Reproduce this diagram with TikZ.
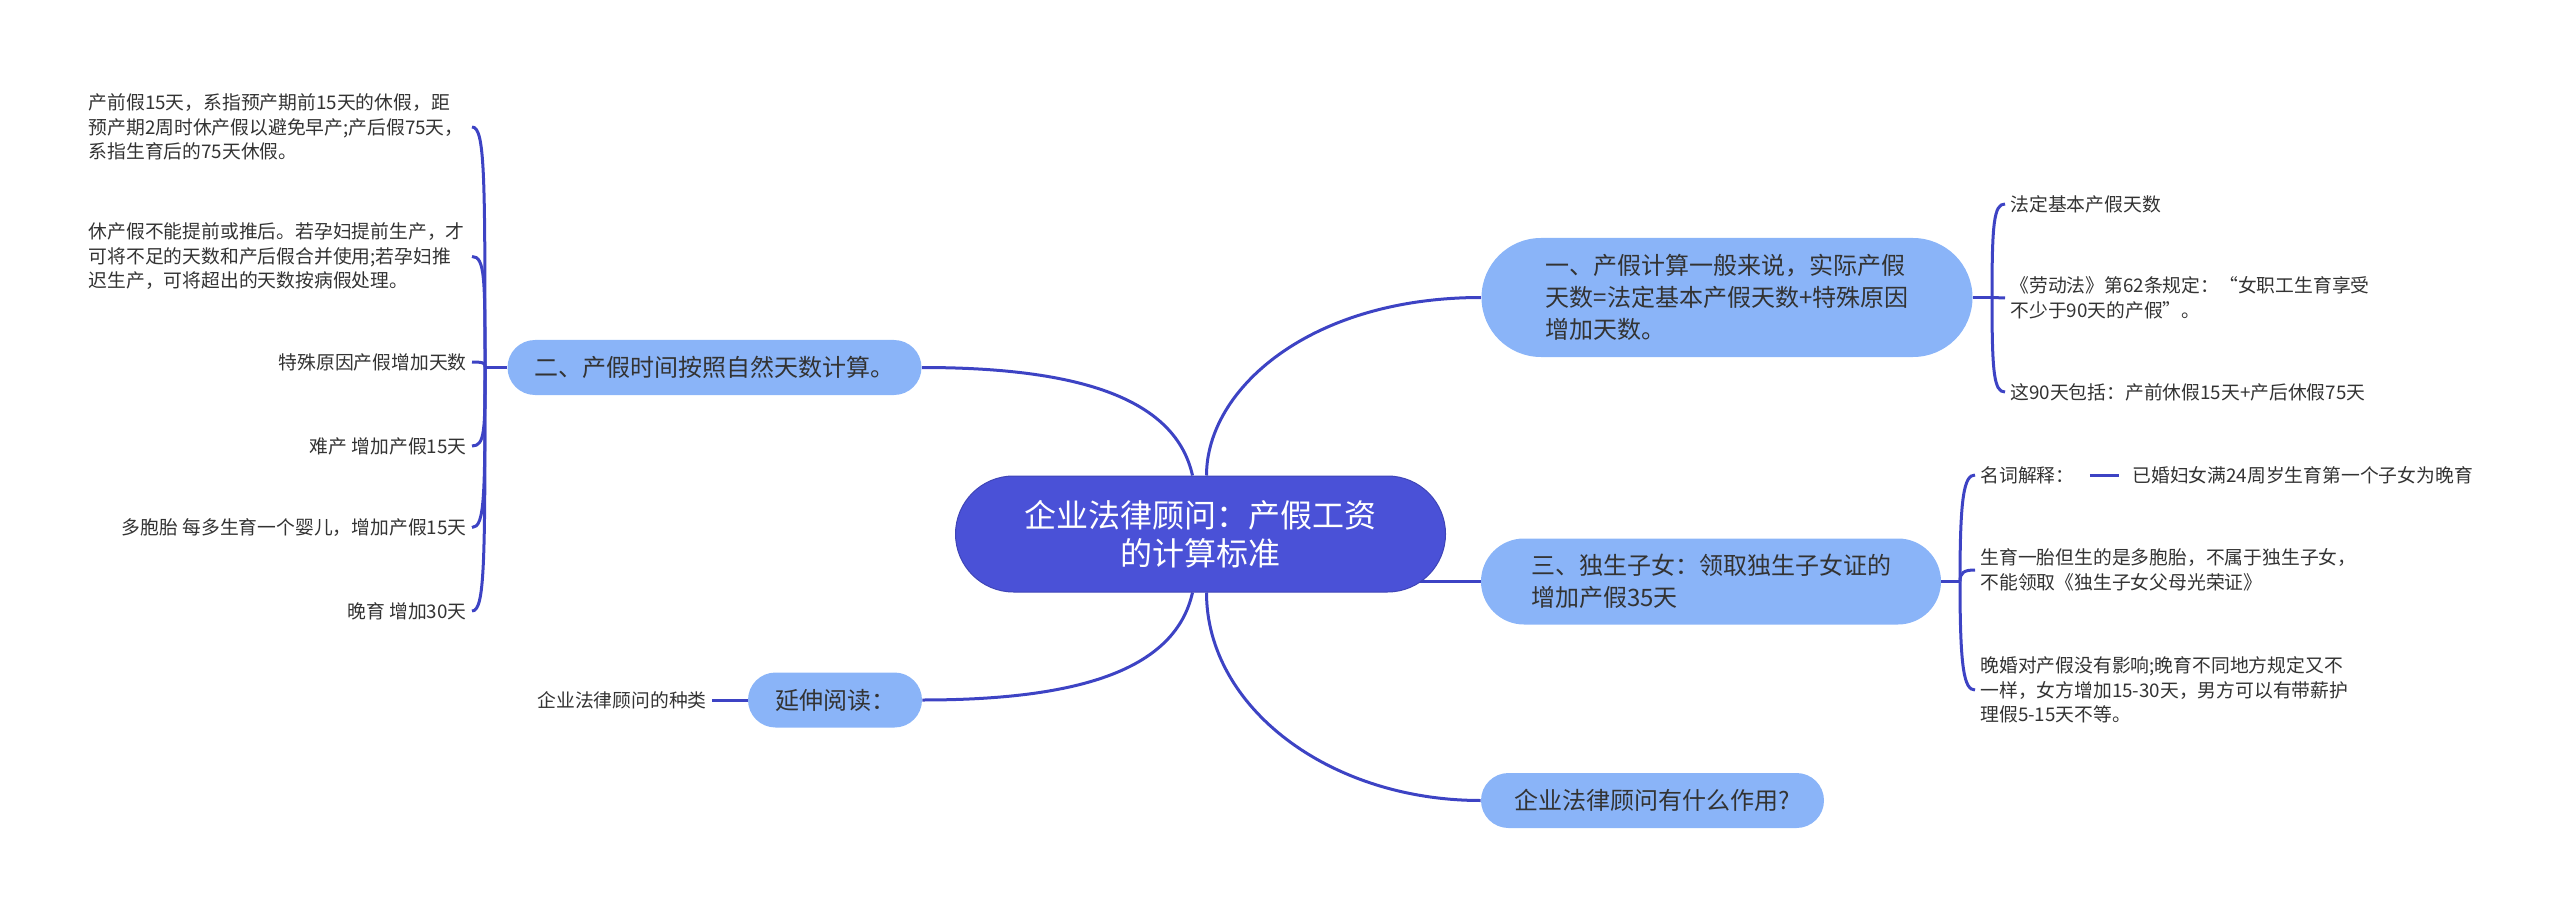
\documentclass[tikz,border=0pt]{standalone}
\usepackage{fontspec}
\setmainfont{Noto Sans CJK SC}
\usetikzlibrary{calc}
\definecolor{rootblue}{HTML}{4A51D7}
\definecolor{topicblue}{HTML}{8AB4F8}
\definecolor{linkblue}{HTML}{3D43C4}
\definecolor{inkgray}{HTML}{333333}
\pgfdeclarelayer{bg}
\pgfsetlayers{bg,main}

\begin{document}
\begin{tikzpicture}[x=0.5pt, y=-0.5pt,
    root/.style = {fill=rootblue, draw=rootblue!85!black, line width=0.5pt, text=white, align=center, rounded corners=29pt, minimum width=245pt, minimum height=58pt, inner sep=0pt, font=\fontsize{16pt}{19pt}\selectfont},
    topic/.style 2 args = {fill=topicblue, text=inkgray, align=left, rounded corners=#2/2, minimum width=#1, minimum height=#2, inner sep=0pt, font=\fontsize{12pt}{16pt}\selectfont},
    leaf/.style = {text=inkgray, align=left, inner xsep=2.5pt, inner ysep=1pt, font=\fontsize{9.4pt}{12.25pt}\selectfont},
    link/.style = {draw=linkblue, line width=1.5pt}]
    \useasboundingbox (0,0) rectangle (2560,909);

    % centre and main topics
    \node[root] (root) at (1200.5,534) {企业法律顾问：产假工资\\的计算标准};
    \node[topic={245.5pt}{59.5pt}] (one) at (1727,297.5) {一、产假计算一般来说，实际产假\\天数=法定基本产假天数+特殊原因\\增加天数。};
    \node[topic={207pt}{27.5pt}] (two) at (714.5,367.5) {二、产假时间按照自然天数计算。};
    \node[topic={230pt}{43pt}] (three) at (1711,581.5) {三、独生子女：领取独生子女证的\\增加产假35天};
    \node[topic={87pt}{27.5pt}] (ext) at (835,700) {延伸阅读：};
    \node[topic={171.5pt}{27.5pt}] (role) at (1652.5,800.5) {企业法律顾问有什么作用?};

    % left leaves
    \node[leaf, anchor=east, text width=189pt] (prenatal) at (472,127) {产前假15天，系指预产期前15天的休假，距\\预产期2周时休产假以避免早产;产后假75天，\\系指生育后的75天休假。};
    \node[leaf, anchor=east, text width=189pt] (timing) at (472,256.5) {休产假不能提前或推后。若孕妇提前生产，才\\可将不足的天数和产后假合并使用;若孕妇推\\迟生产，可将超出的天数按病假处理。};
    \node[leaf, anchor=east] (special) at (472,362) {特殊原因产假增加天数};
    \node[leaf, anchor=east] (dystocia) at (472,446) {难产 增加产假15天};
    \node[leaf, anchor=east] (multiple) at (472,527.5) {多胞胎 每多生育一个婴儿，增加产假15天};
    \node[leaf, anchor=east] (lateraise) at (472,611) {晚育 增加30天};
    \node[leaf, anchor=east] (kinds) at (712,700) {企业法律顾问的种类};

    % right leaves
    \node[leaf, anchor=west] (statutory) at (2005,204) {法定基本产假天数};
    \node[leaf, anchor=west] (labourlaw) at (2005,298) {《劳动法》第62条规定：“女职工生育享受\\不少于90天的产假”。};
    \node[leaf, anchor=west] (ninety) at (2005,392) {这90天包括：产前休假15天+产后休假75天};
    \node[leaf, anchor=west] (term) at (1975,475) {名词解释：};
    \node[leaf, anchor=west] (termdef) at (2127,475) {已婚妇女满24周岁生育第一个子女为晚育};
    \node[leaf, anchor=west] (twins) at (1975,570) {生育一胎但生的是多胞胎，不属于独生子女，\\不能领取《独生子女父母光荣证》};
    \node[leaf, anchor=west] (latemarry) at (1975,690) {晚婚对产假没有影响;晚育不同地方规定又不\\一样，女方增加15-30天，男方可以有带薪护\\理假5-15天不等。};

    \coordinate (leftfork) at (485,367.5);
    \coordinate (rightfork) at (1992,297.5);
    \coordinate (singlefork) at (1960,581.5);

    \begin{pgfonlayer}{bg}
        \draw[link] ($(root.north)+(-8,0)$) .. controls +(-17,-76) and +(160,0) .. (two.east);
        \draw[link] ($(root.north)+(6,0)$) .. controls +(0,-86) and +(-172,0) .. (one.west);
        \draw[link] (root.center |- three.west) -- (three.west);
        \draw[link] ($(root.south)+(6,0)$) .. controls +(0,115) and +(-151,0) .. (role.west);
        \draw[link] ($(root.south)+(-8,0)$) .. controls +(-17,76) and +(160,0) .. (ext.east);
    \end{pgfonlayer}

    \draw[link] (two.west) -- (leftfork);
    \draw[link] (leftfork) .. controls +(0,-192) and +(13,0) .. (prenatal.east);
    \draw[link] (leftfork) .. controls +(0,-89) and +(13,0) .. (timing.east);
    \draw[link] (leftfork) .. controls +(0,-4) and +(13,0) .. (special.east);
    \draw[link] (leftfork) .. controls +(0,63) and +(13,0) .. (dystocia.east);
    \draw[link] (leftfork) .. controls +(0,128) and +(13,0) .. (multiple.east);
    \draw[link] (leftfork) .. controls +(0,195) and +(13,0) .. (lateraise.east);
    \draw[link] (kinds.east) -- (ext.west);

    \draw[link] (one.east) -- (rightfork);
    \draw[link] (rightfork) .. controls +(0,-75) and +(-11,0) .. (statutory.west);
    \draw[link] (rightfork) -- (labourlaw.west);
    \draw[link] (rightfork) .. controls +(0,76) and +(-11,0) .. (ninety.west);

    \draw[link] (three.east) -- (singlefork);
    \draw[link] (singlefork) .. controls +(0,-85) and +(-11,0) .. (term.west);
    \draw[link] (singlefork) .. controls +(0,-9) and +(-11,0) .. (twins.west);
    \draw[link] (singlefork) .. controls +(0,87) and +(-11,0) .. (latemarry.west);
    \draw[link, shorten <=5pt, shorten >=4pt] (term.east) -- (termdef.west);
\end{tikzpicture}
\end{document}
